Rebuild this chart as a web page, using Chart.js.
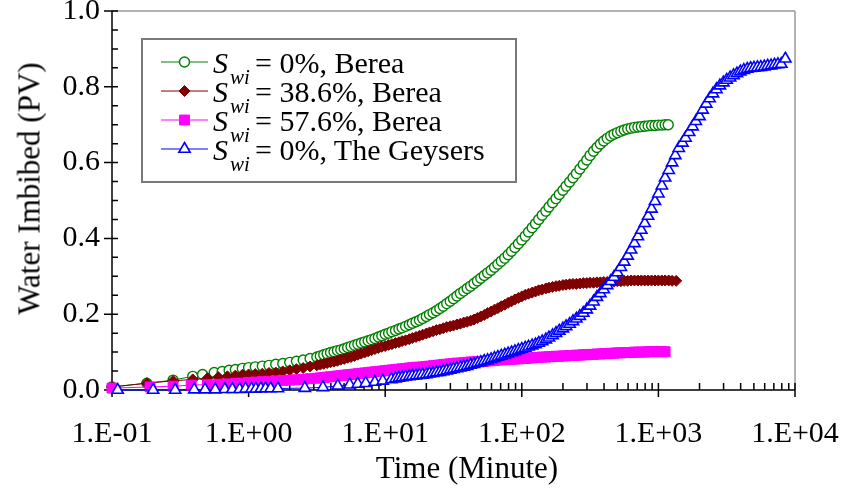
<!DOCTYPE html>
<html>
<head>
<meta charset="utf-8">
<script src="https://cdn.jsdelivr.net/npm/chart.js"></script>
<style>
  body { margin: 0; background: #fff; position: relative; width: 854px; height: 495px; overflow: hidden; }
  #chart { display: block; position: absolute; left: 0; top: 0; }
  .lbl { position: absolute; white-space: nowrap; color: #000; font-family: "Liberation Serif", "Times New Roman", serif; }
</style>
</head>
<body>
<canvas id="chart" width="854" height="495"></canvas>
<div id="labels"></div>
<script>
// time (minute) and water imbibed (PV)
var greenT = [0.1, 0.18, 0.28, 0.39, 0.46, 0.56, 0.64, 0.72, 0.8, 0.9,
    1.0, 1.12, 1.26, 1.41, 1.58, 1.78, 2.0, 2.24, 2.51, 2.82,
    3.16, 3.35, 3.55, 3.76, 3.98, 4.22, 4.47, 4.73, 5.01, 5.31, 5.62, 5.96, 6.31, 6.68, 7.08, 7.5, 7.94, 8.41, 8.91, 9.44,
    10, 10.6, 11.2, 11.9, 12.6, 13.3, 14.1, 15.0, 15.8, 16.8, 17.8, 18.8, 20, 21.1, 22.4, 23.7, 25.1, 26.6, 28.2, 29.9,
    31.6, 33.5, 35.5, 37.6, 39.8, 42.2, 44.7, 47.3, 50.1, 53.1, 56.2, 59.6, 63.1, 66.8, 70.8, 75.0, 79.4, 84.1, 89.1, 94.4,
    100, 106, 112, 119, 126, 133, 141, 150, 158, 168, 178, 188, 200, 211, 224, 237, 251, 266, 282, 299,
    316, 335, 355, 376, 398, 422, 447, 473, 501, 531, 562, 596, 631, 668, 708, 750, 794, 841, 891, 944,
    1000, 1060, 1120, 1180];
var greenY = [0.008, 0.018, 0.026, 0.036, 0.041, 0.046, 0.049, 0.052, 0.054, 0.057,
    0.059, 0.061, 0.063, 0.065, 0.068, 0.070, 0.073, 0.076, 0.079, 0.083,
    0.087, 0.090, 0.093, 0.096, 0.099, 0.101, 0.104, 0.106, 0.109, 0.112, 0.115, 0.118, 0.121, 0.124, 0.127, 0.130, 0.133, 0.136, 0.140, 0.143,
    0.147, 0.150, 0.154, 0.157, 0.161, 0.164, 0.168, 0.172, 0.176, 0.180, 0.184, 0.189, 0.194, 0.199, 0.204, 0.209, 0.215, 0.221, 0.228, 0.234,
    0.241, 0.248, 0.255, 0.261, 0.268, 0.274, 0.281, 0.288, 0.295, 0.302, 0.309, 0.316, 0.324, 0.332, 0.340, 0.348, 0.357, 0.366, 0.376, 0.386,
    0.396, 0.406, 0.417, 0.428, 0.439, 0.450, 0.461, 0.472, 0.483, 0.494, 0.505, 0.516, 0.527, 0.538, 0.549, 0.560, 0.571, 0.583, 0.595, 0.607,
    0.619, 0.630, 0.640, 0.649, 0.657, 0.664, 0.670, 0.675, 0.679, 0.683, 0.686, 0.689, 0.691, 0.693, 0.694, 0.695, 0.696, 0.697, 0.698, 0.698,
    0.699, 0.699, 0.700, 0.700];

var redT = [0.1, 0.18, 0.28, 0.39, 0.5, 0.6, 0.7, 0.8, 0.9,
    1.0, 1.12, 1.26, 1.41, 1.58, 1.78, 2.0, 2.24, 2.51, 2.82,
    3.16, 3.35, 3.55, 3.76, 3.98, 4.22, 4.47, 4.73, 5.01, 5.31, 5.62, 5.96, 6.31, 6.68, 7.08, 7.5, 7.94, 8.41, 8.91, 9.44,
    10, 10.6, 11.2, 11.9, 12.6, 13.3, 14.1, 15.0, 15.8, 16.8, 17.8, 18.8, 20, 21.1, 22.4, 23.7, 25.1, 26.6, 28.2, 29.9,
    31.6, 33.5, 35.5, 37.6, 39.8, 42.2, 44.7, 47.3, 50.1, 53.1, 56.2, 59.6, 63.1, 66.8, 70.8, 75.0, 79.4, 84.1, 89.1, 94.4,
    100, 106, 112, 119, 126, 133, 141, 150, 158, 168, 178, 188, 200, 211, 224, 237, 251, 266, 282, 299,
    316, 335, 355, 376, 398, 422, 447, 473, 501, 531, 562, 596, 631, 668, 708, 750, 794, 841, 891, 944,
    1000, 1060, 1120, 1190, 1260, 1350];
var redY = [0.008, 0.018, 0.024, 0.028, 0.031, 0.034, 0.036, 0.038, 0.040,
    0.041, 0.042, 0.043, 0.045, 0.046, 0.049, 0.052, 0.055, 0.058, 0.062,
    0.065, 0.067, 0.069, 0.071, 0.073, 0.075, 0.077, 0.080, 0.082, 0.085, 0.087, 0.090, 0.093, 0.096, 0.099, 0.102, 0.105, 0.108, 0.111, 0.114,
    0.116, 0.119, 0.121, 0.124, 0.126, 0.129, 0.131, 0.134, 0.137, 0.140, 0.143, 0.146, 0.149, 0.152, 0.155, 0.158, 0.160, 0.163, 0.166, 0.168,
    0.170, 0.173, 0.175, 0.178, 0.180, 0.183, 0.186, 0.190, 0.194, 0.198, 0.203, 0.207, 0.212, 0.216, 0.221, 0.225, 0.230, 0.234, 0.239, 0.243,
    0.247, 0.251, 0.254, 0.257, 0.260, 0.263, 0.265, 0.268, 0.270, 0.272, 0.274, 0.275, 0.277, 0.278, 0.279, 0.280, 0.280, 0.281, 0.282, 0.282,
    0.283, 0.283, 0.284, 0.284, 0.285, 0.285, 0.286, 0.286, 0.287, 0.287, 0.288, 0.288, 0.289, 0.289, 0.289, 0.289, 0.289, 0.289, 0.289, 0.289,
    0.289, 0.289, 0.289, 0.289, 0.288, 0.288];

var magT = [0.1, 0.19, 0.28, 0.38, 0.5, 0.6, 0.7, 0.8, 0.9,
    1.0, 1.12, 1.26, 1.41, 1.58, 1.78, 2.0, 2.24, 2.51, 2.82,
    3.16, 3.35, 3.55, 3.76, 3.98, 4.22, 4.47, 4.73, 5.01, 5.31, 5.62, 5.96, 6.31, 6.68, 7.08, 7.5, 7.94, 8.41, 8.91, 9.44,
    10, 10.6, 11.2, 11.9, 12.6, 13.3, 14.1, 15.0, 15.8, 16.8, 17.8, 18.8, 20, 21.1, 22.4, 23.7, 25.1, 26.6, 28.2, 29.9,
    31.6, 33.5, 35.5, 37.6, 39.8, 42.2, 44.7, 47.3, 50.1, 53.1, 56.2, 59.6, 63.1, 66.8, 70.8, 75.0, 79.4, 84.1, 89.1, 94.4,
    100, 106, 112, 119, 126, 133, 141, 150, 158, 168, 178, 188, 200, 211, 224, 237, 251, 266, 282, 299,
    316, 335, 355, 376, 398, 422, 447, 473, 501, 531, 562, 596, 631, 668, 708, 750, 794, 841, 891, 944,
    1000, 1060, 1120];
var magY = [0.005, 0.008, 0.010, 0.013, 0.014, 0.015, 0.016, 0.017, 0.018,
    0.020, 0.021, 0.022, 0.023, 0.024, 0.025, 0.026, 0.027, 0.028, 0.030,
    0.031, 0.032, 0.033, 0.034, 0.035, 0.036, 0.037, 0.038, 0.039, 0.040, 0.041, 0.042, 0.043, 0.044, 0.045, 0.046, 0.047, 0.048, 0.049, 0.050,
    0.051, 0.052, 0.053, 0.054, 0.055, 0.056, 0.057, 0.058, 0.059, 0.060, 0.060, 0.061, 0.062, 0.063, 0.064, 0.065, 0.066, 0.067, 0.068, 0.069,
    0.070, 0.071, 0.071, 0.072, 0.073, 0.074, 0.074, 0.075, 0.075, 0.076, 0.077, 0.077, 0.078, 0.079, 0.080, 0.080, 0.081, 0.081, 0.082, 0.082,
    0.083, 0.083, 0.084, 0.085, 0.086, 0.086, 0.087, 0.087, 0.088, 0.088, 0.089, 0.089, 0.090, 0.090, 0.091, 0.091, 0.092, 0.092, 0.093, 0.093,
    0.094, 0.094, 0.095, 0.095, 0.096, 0.096, 0.097, 0.097, 0.098, 0.098, 0.099, 0.099, 0.099, 0.100, 0.100, 0.100, 0.100, 0.101, 0.101, 0.101,
    0.101, 0.101, 0.101];

var blueT = [0.11, 0.2, 0.29, 0.4, 0.48, 0.57, 0.67, 0.76, 0.86, 0.95, 1.05, 1.13, 1.23, 1.33, 1.45, 1.64,
    2.58, 3.5, 4.5, 5.5, 6.3, 7.2, 8.4, 9.6, 11.1,
    11.9, 12.6, 13.3, 14.1, 15.0, 15.8, 16.8, 17.8, 18.8, 20, 21.1, 22.4, 23.7, 25.1, 26.6, 28.2, 29.9,
    31.6, 33.5, 35.5, 37.6, 39.8, 42.2, 44.7, 47.3, 50.1, 53.1, 56.2, 59.6, 63.1, 66.8, 70.8, 75.0, 79.4, 84.1, 89.1, 94.4,
    100, 106, 112, 119, 126, 133, 141, 150, 158, 168, 178, 188, 200, 211, 224, 237, 251, 266, 282, 299,
    316, 335, 355, 376, 398, 422, 447, 473, 501, 531, 562, 596, 631, 668, 708, 750, 794, 841, 891, 944,
    1000, 1060, 1120, 1190, 1260, 1330, 1410, 1500, 1580, 1680, 1780, 1880, 2000, 2110, 2240, 2370, 2510, 2660, 2820, 2990,
    3160, 3350, 3550, 3760, 3980, 4220, 4470, 4730, 5010, 5310, 5620, 5960, 6310, 6680, 7080, 7500, 7940, 8500];
var blueY = [0, 0, 0, 0.001, 0.001, 0.001, 0.002, 0.002, 0.002, 0.003, 0.003, 0.003, 0.004, 0.004, 0.004, 0.004,
    0.005, 0.007, 0.011, 0.014, 0.016, 0.018, 0.021, 0.024, 0.028,
    0.030, 0.032, 0.033, 0.035, 0.036, 0.037, 0.038, 0.039, 0.040, 0.041, 0.043, 0.044, 0.046, 0.047, 0.049, 0.051, 0.053,
    0.055, 0.057, 0.059, 0.061, 0.063, 0.066, 0.068, 0.071, 0.073, 0.076, 0.078, 0.081, 0.084, 0.087, 0.090, 0.093, 0.096, 0.099, 0.102, 0.105,
    0.108, 0.111, 0.114, 0.117, 0.120, 0.124, 0.128, 0.133, 0.138, 0.144, 0.150, 0.156, 0.162, 0.168, 0.174, 0.181, 0.188, 0.195, 0.203, 0.212,
    0.222, 0.233, 0.245, 0.255, 0.265, 0.276, 0.287, 0.298, 0.310, 0.324, 0.338, 0.354, 0.370, 0.387, 0.405, 0.422, 0.440, 0.459, 0.478, 0.498,
    0.518, 0.539, 0.560, 0.580, 0.600, 0.619, 0.638, 0.652, 0.665, 0.680, 0.695, 0.709, 0.722, 0.739, 0.755, 0.769, 0.782, 0.793, 0.803, 0.811,
    0.818, 0.824, 0.830, 0.835, 0.840, 0.844, 0.847, 0.849, 0.850, 0.851, 0.852, 0.853, 0.855, 0.856, 0.858, 0.859, 0.860, 0.874];

var xTickValues = [0.1, 1, 10, 100, 1000, 10000];
var xTickLabels = ["1.E-01", "1.E+00", "1.E+01", "1.E+02", "1.E+03", "1.E+04"];
var yTickValues = [0, 0.2, 0.4, 0.6, 0.8, 1.0];
var yTickLabels = ["0.0", "0.2", "0.4", "0.6", "0.8", "1.0"];
var legendValues = ["0%, Berea", "38.6%, Berea", "57.6%, Berea", "0%, The Geysers"];

var fam = "Liberation Serif";
Chart.defaults.font.family = fam;
Chart.defaults.color = "#000";

function pts(t, y) {
    var out = [];
    for (var i = 0; i < t.length; i++) out.push({x: t[i], y: y[i]});
    return out;
}

// text as html, baseline placed by hand (line-height = font size)
function addLabel(html, left, baseline, size, extra) {
    var d = document.createElement("div");
    d.className = "lbl";
    d.innerHTML = html;
    d.style.fontSize = size + "px";
    d.style.lineHeight = size + "px";
    d.style.left = left + "px";
    d.style.top = (baseline - size * 0.837) + "px";
    if (extra) extra(d);
    document.getElementById("labels").appendChild(d);
    return d;
}

// axes, ticks, the grey frame and the legend box
var framePlugin = {
    id: "frame",
    beforeDatasetsDraw: function (chart) {
        var ctx = chart.ctx, a = chart.chartArea;
        var xs = chart.scales.x, ys = chart.scales.y;
        ctx.save();
        ctx.lineWidth = 1.5;
        ctx.strokeStyle = "#9a9a9a";
        ctx.beginPath();
        ctx.moveTo(a.left, a.top); ctx.lineTo(a.right, a.top);
        ctx.moveTo(a.right, a.top); ctx.lineTo(a.right, a.bottom);
        ctx.stroke();

        ctx.strokeStyle = "#000";
        ctx.beginPath();
        ctx.moveTo(a.left, a.top); ctx.lineTo(a.left, a.bottom);
        ctx.moveTo(a.left, a.bottom); ctx.lineTo(a.right, a.bottom);
        for (var i = 0; i <= 20; i++) {
            var py = ys.getPixelForValue(i * 0.05);
            if (i % 4 == 0) { ctx.moveTo(a.left - 8, py); ctx.lineTo(a.left + 6, py); }
            else { ctx.moveTo(a.left, py); ctx.lineTo(a.left + 6, py); }
        }
        for (var d = 0; d < xTickValues.length; d++) {
            var px = xs.getPixelForValue(xTickValues[d]);
            ctx.moveTo(px, a.bottom - 7); ctx.lineTo(px, a.bottom + 7);
            if (d == xTickValues.length - 1) break;
            for (var k = 2; k <= 9; k++) {
                var mx = xs.getPixelForValue(k * xTickValues[d]);
                ctx.moveTo(mx, a.bottom - 7); ctx.lineTo(mx, a.bottom);
            }
        }
        ctx.stroke();
        ctx.restore();
    },
    afterDraw: function (chart) {
        var ctx = chart.ctx;
        ctx.save();
        ctx.fillStyle = "#fff";
        ctx.fillRect(142, 39, 374, 143);
        ctx.strokeStyle = "#7a7a7a";
        ctx.lineWidth = 2;
        ctx.strokeRect(142, 39, 374, 143);

        for (var i = 0; i < legendValues.length; i++) {
            var ds = chart.data.datasets[i];
            var ly = 62 + i * 29;
            ctx.strokeStyle = ds.borderColor;
            ctx.lineWidth = 1;
            ctx.beginPath();
            ctx.moveTo(161, ly); ctx.lineTo(208, ly);
            ctx.stroke();
            ctx.fillStyle = ds.pointBackgroundColor;
            ctx.lineWidth = ds.pointBorderWidth;
            Chart.helpers.drawPoint(ctx, {pointStyle: ds.pointStyle, radius: ds.pointRadius, borderWidth: 1, rotation: 0}, 184.5, ly);
        }
        ctx.restore();
    }
};

var chart = new Chart(document.getElementById("chart"), {
    type: "line",
    data: {
        datasets: [
            {data: pts(greenT, greenY), borderColor: "#008000", backgroundColor: "#fff", pointBackgroundColor: "#fff",
             pointStyle: "circle", pointRadius: 5, pointBorderWidth: 1.4, borderWidth: 1, order: 3},
            {data: pts(redT, redY), borderColor: "#800000", backgroundColor: "#800000", pointBackgroundColor: "#800000",
             pointStyle: "rectRot", pointRadius: 5.5, pointBorderWidth: 1, borderWidth: 1, order: 2},
            {data: pts(magT, magY), borderColor: "#ff00ff", backgroundColor: "#ff00ff", pointBackgroundColor: "#ff00ff",
             pointStyle: "rect", pointRadius: 7, pointBorderWidth: 1, borderWidth: 1, order: 1},
            {data: pts(blueT, blueY), borderColor: "#0000ff", backgroundColor: "#fff", pointBackgroundColor: "#fff",
             pointStyle: "triangle", pointRadius: 6.5, pointBorderWidth: 1.6, borderWidth: 1, order: 0}
        ]
    },
    options: {
        responsive: false,
        animation: false,
        events: [],
        clip: false,
        layout: {padding: {top: 11, right: 59, left: 0, bottom: 0}},
        elements: {line: {tension: 0, fill: false}},
        plugins: {legend: {display: false}, tooltip: {enabled: false}},
        scales: {
            x: {
                type: "logarithmic",
                min: 0.1,
                max: 10000,
                grid: {display: false, drawTicks: false},
                border: {display: false},
                afterBuildTicks: function (s) {
                    s.ticks = xTickValues.map(function (v) { return {value: v}; });
                },
                afterFit: function (s) {
                    s.height = 105;
                    s.paddingLeft = 0; s.paddingRight = 0;
                },
                ticks: {
                    autoSkip: false, maxRotation: 0, padding: 26,
                    font: {size: 30, family: fam},
                    callback: function (v, i) { return xTickLabels[i]; }
                }
            },
            y: {
                min: 0,
                max: 1,
                grid: {display: false, drawTicks: false},
                border: {display: false},
                afterBuildTicks: function (s) {
                    s.ticks = yTickValues.map(function (v) { return {value: v}; });
                },
                afterFit: function (s) {
                    s.width = 112;
                    s.paddingTop = 0; s.paddingBottom = 0;
                },
                ticks: {
                    padding: 12,
                    font: {size: 30, family: fam},
                    callback: function (v, i) { return yTickLabels[i]; }
                }
            }
        }
    },
    plugins: [framePlugin]
});

// axis titles
addLabel("Time (Minute)", 267, 478, 31, function (d) { d.style.width = "400px"; d.style.textAlign = "center"; });
addLabel("Water Imbibed (PV)", 28.5 - 200, 188 + 10.5, 31, function (d) {
    d.style.width = "400px"; d.style.textAlign = "center"; d.style.transform = "rotate(-90deg)";
});

// legend text
for (var i = 0; i < legendValues.length; i++) {
    var base = 73 + i * 29;
    addLabel("<i>S</i>", 213, base, 30);
    addLabel("<i>wi</i>", 230, base + 12, 21);
    addLabel("= " + legendValues[i], 255, base, 30);
}
</script>
</body>
</html>
